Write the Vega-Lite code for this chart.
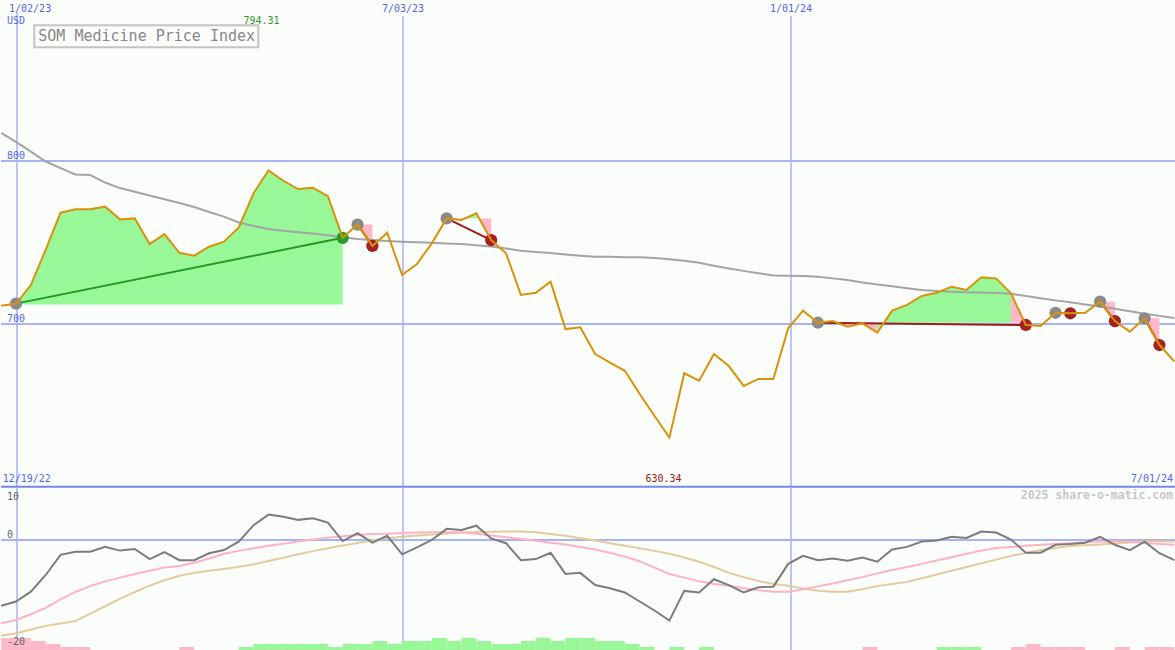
{
"$schema":"https://vega.github.io/schema/vega-lite/v6.json",
"background":"#fbfdfa",
"padding":0,
"spacing":0,
"bounds":"flush",
"config":{"view":{"stroke":null},"text":{"font":"DejaVu Sans Mono"},"scale":{"continuousPadding":0}},
"datasets":{
"weeks":[
{"i":-1,"p":711.2,"ma":817.3,"o":-12.4,"pk":-15.7,"tn":-18.05},
{"i":0,"p":712.5,"ma":811.8,"o":-11.6,"pk":-15.1,"tn":-17.6},
{"i":1,"p":723.9,"ma":805.8,"o":-9.75,"pk":-14.0,"tn":-16.9},
{"i":2,"p":745.6,"ma":799.7,"o":-6.6,"pk":-12.8,"tn":-16.2},
{"i":3,"p":768.3,"ma":795.6,"o":-2.8,"pk":-11.2,"tn":-15.75},
{"i":4,"p":770.4,"ma":791.8,"o":-2.2,"pk":-9.8,"tn":-15.3},
{"i":5,"p":770.4,"ma":791.4,"o":-2.2,"pk":-8.7,"tn":-13.9},
{"i":6,"p":772.0,"ma":786.8,"o":-1.26,"pk":-7.8,"tn":-12.5},
{"i":7,"p":764.2,"ma":783.4,"o":-2.0,"pk":-7.1,"tn":-11.1},
{"i":8,"p":764.8,"ma":781.1,"o":-1.7,"pk":-6.4,"tn":-9.8},
{"i":9,"p":749.1,"ma":778.8,"o":-3.6,"pk":-5.8,"tn":-8.6},
{"i":10,"p":755.2,"ma":776.6,"o":-2.3,"pk":-5.2,"tn":-7.6},
{"i":11,"p":743.7,"ma":774.2,"o":-3.8,"pk":-4.9,"tn":-6.75},
{"i":12,"p":741.9,"ma":771.8,"o":-3.8,"pk":-4.3,"tn":-6.2},
{"i":13,"p":747.4,"ma":768.7,"o":-2.5,"pk":-3.5,"tn":-5.8},
{"i":14,"p":750.5,"ma":765.9,"o":-1.9,"pk":-2.6,"tn":-5.45},
{"i":15,"p":759.3,"ma":762.3,"o":-0.3,"pk":-2.05,"tn":-5.05},
{"i":16,"p":780.2,"ma":760.1,"o":2.8,"pk":-1.55,"tn":-4.6},
{"i":17,"p":794.3,"ma":758.3,"o":4.8,"pk":-1.1,"tn":-3.95},
{"i":18,"p":787.9,"ma":757.2,"o":4.4,"pk":-0.7,"tn":-3.35},
{"i":19,"p":782.8,"ma":756.3,"o":3.8,"pk":-0.3,"tn":-2.7},
{"i":20,"p":783.6,"ma":755.5,"o":4.1,"pk":0.1,"tn":-2.1},
{"i":21,"p":778.5,"ma":754.5,"o":3.3,"pk":0.45,"tn":-1.55},
{"i":22,"p":752.9,"ma":753.3,"o":-0.2,"pk":0.7,"tn":-1.05},
{"i":23,"p":761.0,"ma":752.2,"o":1.3,"pk":0.95,"tn":-0.55},
{"i":24,"p":747.9,"ma":751.5,"o":-0.5,"pk":1.15,"tn":-0.05},
{"i":25,"p":756.0,"ma":751.0,"o":0.8,"pk":1.2,"tn":0.35},
{"i":26,"p":730.1,"ma":750.5,"o":-2.7,"pk":1.3,"tn":0.6},
{"i":27,"p":736.8,"ma":750.2,"o":-1.4,"pk":1.4,"tn":0.85},
{"i":28,"p":749.5,"ma":749.8,"o":0.0,"pk":1.45,"tn":1.05},
{"i":29,"p":764.8,"ma":749.4,"o":2.1,"pk":1.45,"tn":1.25},
{"i":30,"p":763.8,"ma":749.1,"o":1.9,"pk":1.45,"tn":1.4},
{"i":31,"p":767.9,"ma":748.3,"o":2.7,"pk":1.2,"tn":1.5},
{"i":32,"p":751.5,"ma":747.5,"o":0.3,"pk":0.85,"tn":1.55},
{"i":33,"p":743.4,"ma":746.3,"o":-0.6,"pk":0.5,"tn":1.6},
{"i":34,"p":717.8,"ma":745.0,"o":-3.8,"pk":0.2,"tn":1.6},
{"i":35,"p":719.2,"ma":744.2,"o":-3.6,"pk":-0.15,"tn":1.45},
{"i":36,"p":726.0,"ma":743.5,"o":-2.4,"pk":-0.5,"tn":1.15},
{"i":37,"p":696.9,"ma":742.7,"o":-6.4,"pk":-0.85,"tn":0.8},
{"i":38,"p":698.0,"ma":741.9,"o":-6.2,"pk":-1.3,"tn":0.35},
{"i":39,"p":681.6,"ma":741.3,"o":-8.5,"pk":-1.8,"tn":-0.1},
{"i":40,"p":676.3,"ma":741.2,"o":-9.1,"pk":-2.4,"tn":-0.6},
{"i":41,"p":671.3,"ma":741.0,"o":-9.9,"pk":-3.15,"tn":-1.1},
{"i":42,"p":657.1,"ma":740.9,"o":-11.6,"pk":-4.0,"tn":-1.55},
{"i":43,"p":643.6,"ma":740.5,"o":-13.3,"pk":-5.2,"tn":-2.05},
{"i":44,"p":630.3,"ma":739.7,"o":-15.2,"pk":-6.4,"tn":-2.6},
{"i":45,"p":669.8,"ma":738.8,"o":-9.6,"pk":-7.1,"tn":-3.3},
{"i":46,"p":665.2,"ma":737.6,"o":-9.9,"pk":-7.8,"tn":-4.1},
{"i":47,"p":681.6,"ma":735.8,"o":-7.4,"pk":-8.3,"tn":-5.1},
{"i":48,"p":674.2,"ma":734.1,"o":-8.5,"pk":-8.65,"tn":-6.2},
{"i":49,"p":662.0,"ma":732.6,"o":-9.9,"pk":-9.1,"tn":-7.0},
{"i":50,"p":666.3,"ma":731.2,"o":-8.9,"pk":-9.5,"tn":-7.75},
{"i":51,"p":666.3,"ma":729.7,"o":-8.8,"pk":-9.75,"tn":-8.3},
{"i":52,"p":697.4,"ma":729.6,"o":-4.5,"pk":-9.75,"tn":-8.65},
{"i":53,"p":708.2,"ma":729.5,"o":-3.0,"pk":-9.3,"tn":-9.15},
{"i":54,"p":700.8,"ma":729.0,"o":-3.8,"pk":-8.75,"tn":-9.55},
{"i":55,"p":701.8,"ma":728.0,"o":-3.5,"pk":-8.2,"tn":-9.75},
{"i":56,"p":698.3,"ma":727.0,"o":-3.9,"pk":-7.6,"tn":-9.75},
{"i":57,"p":700.4,"ma":725.5,"o":-3.3,"pk":-7.0,"tn":-9.3},
{"i":58,"p":694.7,"ma":724.3,"o":-4.1,"pk":-6.3,"tn":-8.7},
{"i":59,"p":708.2,"ma":723.1,"o":-1.8,"pk":-5.65,"tn":-8.3},
{"i":60,"p":711.7,"ma":722.0,"o":-1.3,"pk":-5.1,"tn":-7.9},
{"i":61,"p":717.2,"ma":720.9,"o":-0.3,"pk":-4.5,"tn":-7.2},
{"i":62,"p":719.2,"ma":720.2,"o":-0.1,"pk":-3.85,"tn":-6.5},
{"i":63,"p":722.9,"ma":719.8,"o":0.6,"pk":-3.25,"tn":-5.8},
{"i":64,"p":720.9,"ma":719.5,"o":0.4,"pk":-2.6,"tn":-5.1},
{"i":65,"p":728.7,"ma":719.3,"o":1.6,"pk":-2.0,"tn":-4.4},
{"i":66,"p":728.0,"ma":719.0,"o":1.4,"pk":-1.5,"tn":-3.7},
{"i":67,"p":718.8,"ma":718.5,"o":0.1,"pk":-1.3,"tn":-3.0},
{"i":68,"p":699.4,"ma":717.2,"o":-2.4,"pk":-1.1,"tn":-2.45},
{"i":69,"p":698.8,"ma":715.8,"o":-2.4,"pk":-0.9,"tn":-1.9},
{"i":70,"p":706.9,"ma":714.5,"o":-0.9,"pk":-0.75,"tn":-1.5},
{"i":71,"p":706.6,"ma":713.3,"o":-0.75,"pk":-0.6,"tn":-1.15},
{"i":72,"p":706.9,"ma":712.0,"o":-0.5,"pk":-0.4,"tn":-1.0},
{"i":73,"p":713.7,"ma":710.7,"o":0.6,"pk":-0.3,"tn":-0.85},
{"i":74,"p":701.8,"ma":709.3,"o":-0.9,"pk":-0.3,"tn":-0.65},
{"i":75,"p":695.3,"ma":707.9,"o":-1.9,"pk":-0.35,"tn":-0.45},
{"i":76,"p":703.5,"ma":706.3,"o":-0.3,"pk":-0.55,"tn":-0.3},
{"i":77,"p":687.1,"ma":705.0,"o":-2.5,"pk":-0.75,"tn":-0.3},
{"i":78,"p":677.1,"ma":703.7,"o":-3.8,"pk":-0.9,"tn":-0.3}
],
"fills":[
{"g":"G1","k":"up","i":0,"p":712.5,"b":712},{"g":"G1","k":"up","i":1,"p":723.9,"b":712},{"g":"G1","k":"up","i":2,"p":745.6,"b":712},{"g":"G1","k":"up","i":3,"p":768.3,"b":712},{"g":"G1","k":"up","i":4,"p":770.4,"b":712},{"g":"G1","k":"up","i":5,"p":770.4,"b":712},{"g":"G1","k":"up","i":6,"p":772.0,"b":712},{"g":"G1","k":"up","i":7,"p":764.2,"b":712},{"g":"G1","k":"up","i":8,"p":764.8,"b":712},{"g":"G1","k":"up","i":9,"p":749.1,"b":712},{"g":"G1","k":"up","i":10,"p":755.2,"b":712},{"g":"G1","k":"up","i":11,"p":743.7,"b":712},{"g":"G1","k":"up","i":12,"p":741.9,"b":712},{"g":"G1","k":"up","i":13,"p":747.4,"b":712},{"g":"G1","k":"up","i":14,"p":750.5,"b":712},{"g":"G1","k":"up","i":15,"p":759.3,"b":712},{"g":"G1","k":"up","i":16,"p":780.2,"b":712},{"g":"G1","k":"up","i":17,"p":794.3,"b":712},{"g":"G1","k":"up","i":18,"p":787.9,"b":712},{"g":"G1","k":"up","i":19,"p":782.8,"b":712},{"g":"G1","k":"up","i":20,"p":783.6,"b":712},{"g":"G1","k":"up","i":21,"p":778.5,"b":712},{"g":"G1","k":"up","i":22,"p":752.9,"b":712},
{"g":"P1","k":"dn","i":23,"p":761.0,"b":761.0},{"g":"P1","k":"dn","i":24,"p":747.9,"b":761.0},
{"g":"P2","k":"dn","i":29,"p":764.8,"b":764.8},{"g":"P2","k":"dn","i":30,"p":763.8,"b":764.8},
{"g":"G2","k":"up","i":30,"p":763.8,"b":764.8},{"g":"G2","k":"up","i":31,"p":767.9,"b":764.8},
{"g":"P3","k":"dn","i":31,"p":767.9,"b":764.8},{"g":"P3","k":"dn","i":32,"p":751.5,"b":764.8},
{"g":"G3","k":"up","i":54,"p":700.8,"b":700.8},{"g":"G3","k":"up","i":55,"p":701.8,"b":700.8},
{"g":"P4","k":"dn","i":55,"p":701.8,"b":700.8},{"g":"P4","k":"dn","i":56,"p":698.3,"b":700.8},{"g":"P4","k":"dn","i":57,"p":700.4,"b":700.8},{"g":"P4","k":"dn","i":58,"p":694.7,"b":700.8},
{"g":"G4","k":"up","i":58,"p":694.7,"b":700.8},{"g":"G4","k":"up","i":59,"p":708.2,"b":700.8},{"g":"G4","k":"up","i":60,"p":711.7,"b":700.8},{"g":"G4","k":"up","i":61,"p":717.2,"b":700.8},{"g":"G4","k":"up","i":62,"p":719.2,"b":700.8},{"g":"G4","k":"up","i":63,"p":722.9,"b":700.8},{"g":"G4","k":"up","i":64,"p":720.9,"b":700.8},{"g":"G4","k":"up","i":65,"p":728.7,"b":700.8},{"g":"G4","k":"up","i":66,"p":728.0,"b":700.8},{"g":"G4","k":"up","i":67,"p":718.8,"b":700.8},
{"g":"P5","k":"dn","i":67,"p":718.8,"b":700.8},{"g":"P5","k":"dn","i":68,"p":699.4,"b":700.8},
{"g":"P6","k":"dn","i":70,"p":706.9,"b":706.9},{"g":"P6","k":"dn","i":71,"p":706.6,"b":706.9},
{"g":"P7","k":"dn","i":73,"p":713.7,"b":713.7},{"g":"P7","k":"dn","i":74,"p":701.8,"b":713.7},
{"g":"P8","k":"dn","i":76,"p":703.5,"b":703.5},{"g":"P8","k":"dn","i":77,"p":687.1,"b":703.5}
],
"trades":[
{"t":"T1","k":"win","i":0,"p":712.5},{"t":"T1","k":"win","i":22,"p":752.9},
{"t":"T2","k":"lose","i":23,"p":761.0},{"t":"T2","k":"lose","i":24,"p":747.9},
{"t":"T3","k":"lose","i":29,"p":764.8},{"t":"T3","k":"lose","i":32,"p":751.5},
{"t":"T4","k":"lose","i":54,"p":700.8},{"t":"T4","k":"lose","i":68,"p":699.4},
{"t":"T5","k":"lose","i":70,"p":706.9},{"t":"T5","k":"lose","i":71,"p":706.6},
{"t":"T6","k":"lose","i":73,"p":713.7},{"t":"T6","k":"lose","i":74,"p":701.8},
{"t":"T7","k":"lose","i":76,"p":703.5},{"t":"T7","k":"lose","i":77,"p":687.1}
],
"dots":[
{"k":"buy","i":0,"p":712.5},{"k":"win","i":22,"p":752.9},
{"k":"buy","i":23,"p":761.0},{"k":"lose","i":24,"p":747.9},
{"k":"buy","i":29,"p":764.8},{"k":"lose","i":32,"p":751.5},
{"k":"buy","i":54,"p":700.8},{"k":"lose","i":68,"p":699.4},
{"k":"buy","i":70,"p":706.9},{"k":"lose","i":71,"p":706.6},
{"k":"buy","i":73,"p":713.7},{"k":"lose","i":74,"p":701.8},
{"k":"buy","i":76,"p":703.5},{"k":"lose","i":77,"p":687.1}
],
"hist":[
{"i":-1,"m":4,"s":"neg"},{"i":0,"m":4,"s":"neg"},{"i":1,"m":3,"s":"neg"},{"i":2,"m":2,"s":"neg"},{"i":3,"m":1,"s":"neg"},{"i":4,"m":1,"s":"neg"},{"i":11,"m":1,"s":"neg"},
{"i":15,"m":1,"s":"pos"},{"i":16,"m":2,"s":"pos"},{"i":17,"m":2,"s":"pos"},{"i":18,"m":2,"s":"pos"},{"i":19,"m":2,"s":"pos"},{"i":20,"m":2,"s":"pos"},{"i":21,"m":1,"s":"pos"},{"i":22,"m":2,"s":"pos"},{"i":23,"m":2,"s":"pos"},{"i":24,"m":3,"s":"pos"},{"i":25,"m":2,"s":"pos"},{"i":26,"m":3,"s":"pos"},{"i":27,"m":3,"s":"pos"},{"i":28,"m":4,"s":"pos"},{"i":29,"m":3,"s":"pos"},{"i":30,"m":4,"s":"pos"},{"i":31,"m":3,"s":"pos"},{"i":32,"m":2,"s":"pos"},{"i":33,"m":2,"s":"pos"},{"i":34,"m":3,"s":"pos"},{"i":35,"m":4,"s":"pos"},{"i":36,"m":3,"s":"pos"},{"i":37,"m":4,"s":"pos"},{"i":38,"m":4,"s":"pos"},{"i":39,"m":3,"s":"pos"},{"i":40,"m":3,"s":"pos"},{"i":41,"m":2,"s":"pos"},{"i":42,"m":1,"s":"pos"},{"i":44,"m":1,"s":"pos"},{"i":46,"m":1,"s":"pos"},
{"i":57,"m":1,"s":"neg"},{"i":62,"m":1,"s":"pos"},{"i":63,"m":1,"s":"pos"},{"i":64,"m":1,"s":"pos"},{"i":67,"m":1,"s":"neg"},{"i":68,"m":2,"s":"neg"},{"i":69,"m":1,"s":"neg"},{"i":70,"m":1,"s":"neg"},{"i":71,"m":1,"s":"neg"},{"i":74,"m":1,"s":"neg"},{"i":76,"m":1,"s":"neg"},{"i":77,"m":1,"s":"neg"}
],
"vlines":[{"i":0.067,"top":890.8},{"i":26.06,"top":889},{"i":52.19,"top":889}],
"labels":[
{"r":"L","t":"1/02/23","i":-0.47,"v":893.4},
{"r":"L","t":"USD","i":-0.606,"v":885.8},
{"r":"L","t":"12/19/22","i":-0.9,"v":604.9},
{"r":"C","t":"7/03/23","i":26.06,"v":893.4},
{"r":"C","t":"1/01/24","i":52.19,"v":893.4},
{"r":"R","t":"7/01/24","i":77.92,"v":604.9},
{"r":"MX","t":"794.31","i":16.53,"v":885.8},
{"r":"MN","t":"630.34","i":43.6,"v":604.9}
]
},
"vconcat":[
{
"width":1175,"height":487,
"resolve":{"scale":{"color":"independent"}},
"layer":[
{"data":{"values":[{"v":800},{"v":700}]},"mark":{"type":"rule","color":"#a6b3f4","strokeWidth":2},
 "encoding":{"y":{"field":"v","type":"quantitative","scale":{"domain":[600,898.8],"nice":false,"zero":false},"axis":null}}},
{"data":{"name":"vlines"},"mark":{"type":"rule","color":"#a6b3f4","strokeWidth":1.5},
 "encoding":{"x":{"field":"i","type":"quantitative","scale":{"domain":[-1.0101,78.114],"nice":false,"zero":false,"padding":0},"axis":null},
  "y":{"field":"top","type":"quantitative","scale":{"domain":[600,898.8],"nice":false,"zero":false},"axis":null},
  "y2":{"datum":600}}},
{"data":{"name":"fills"},"mark":{"type":"area","opacity":1},
 "encoding":{"x":{"field":"i","type":"quantitative","scale":{"domain":[-1.0101,78.114],"nice":false,"zero":false,"padding":0},"axis":null},
  "y":{"field":"p","type":"quantitative","scale":{"domain":[600,898.8],"nice":false,"zero":false},"axis":null},
  "y2":{"field":"b"},
  "detail":{"field":"g"},
  "color":{"field":"k","type":"nominal","scale":{"domain":["up","dn"],"range":["#98f898","#ffb8c8"]},"legend":null}}},
{"data":{"name":"weeks"},"mark":{"type":"line","color":"#a4a4a4","strokeWidth":2,"clip":true},
 "encoding":{"x":{"field":"i","type":"quantitative","scale":{"domain":[-1.0101,78.114],"nice":false,"zero":false,"padding":0},"axis":null},
  "y":{"field":"ma","type":"quantitative","scale":{"domain":[600,898.8],"nice":false,"zero":false},"axis":null}}},
{"data":{"name":"trades"},"mark":{"type":"line","strokeWidth":2},
 "encoding":{"x":{"field":"i","type":"quantitative","scale":{"domain":[-1.0101,78.114],"nice":false,"zero":false,"padding":0},"axis":null},
  "y":{"field":"p","type":"quantitative","scale":{"domain":[600,898.8],"nice":false,"zero":false},"axis":null},
  "detail":{"field":"t"},
  "color":{"field":"k","type":"nominal","scale":{"domain":["win","lose"],"range":["#229922","#a01c1c"]},"legend":null}}},
{"data":{"name":"dots"},"mark":{"type":"point","filled":true,"opacity":1,"size":150},
 "encoding":{"x":{"field":"i","type":"quantitative","scale":{"domain":[-1.0101,78.114],"nice":false,"zero":false,"padding":0},"axis":null},
  "y":{"field":"p","type":"quantitative","scale":{"domain":[600,898.8],"nice":false,"zero":false},"axis":null},
  "color":{"field":"k","type":"nominal","scale":{"domain":["buy","win","lose"],"range":["#8a8a8a","#2a9a2a","#a52020"]},"legend":null}}},
{"data":{"name":"weeks"},"mark":{"type":"line","color":"#d8920c","strokeWidth":2,"clip":true},
 "encoding":{"x":{"field":"i","type":"quantitative","scale":{"domain":[-1.0101,78.114],"nice":false,"zero":false,"padding":0},"axis":null},
  "y":{"field":"p","type":"quantitative","scale":{"domain":[600,898.8],"nice":false,"zero":false},"axis":null}}},
{"data":{"values":[{"v":600.2}]},"mark":{"type":"rule","color":"#7586ee","strokeWidth":2},
 "encoding":{"y":{"field":"v","type":"quantitative","scale":{"domain":[600,898.8],"nice":false,"zero":false},"axis":null}}},
{"data":{"values":[{"a":1.232,"b":16.316,"c":883.3,"d":869.8}]},"mark":{"type":"rect","fill":"#fbfdfa","stroke":"#c4c4c4","strokeWidth":2},
 "encoding":{"x":{"field":"a","type":"quantitative","scale":{"domain":[-1.0101,78.114],"nice":false,"zero":false,"padding":0},"axis":null},
  "x2":{"field":"b"},
  "y":{"field":"c","type":"quantitative","scale":{"domain":[600,898.8],"nice":false,"zero":false},"axis":null},
  "y2":{"field":"d"}}},
{"data":{"values":[{"t":"SOM Medicine Price Index","i":1.502,"v":876.6}]},"mark":{"type":"text","align":"left","baseline":"middle","fontSize":15,"color":"#888888"},
 "encoding":{"x":{"field":"i","type":"quantitative","scale":{"domain":[-1.0101,78.114],"nice":false,"zero":false,"padding":0},"axis":null},
  "y":{"field":"v","type":"quantitative","scale":{"domain":[600,898.8],"nice":false,"zero":false},"axis":null},
  "text":{"field":"t"}}},
{"data":{"values":[{"t":"800","i":-0.606,"v":800},{"t":"700","i":-0.606,"v":700}]},"mark":{"type":"text","align":"left","baseline":"middle","dy":-5,"fontSize":10,"color":"#5566ee"},
 "encoding":{"x":{"field":"i","type":"quantitative","scale":{"domain":[-1.0101,78.114],"nice":false,"zero":false,"padding":0},"axis":null},
  "y":{"field":"v","type":"quantitative","scale":{"domain":[600,898.8],"nice":false,"zero":false},"axis":null},
  "text":{"field":"t"}}},
{"data":{"name":"labels"},"transform":[{"filter":"datum.r==='L'"}],"mark":{"type":"text","align":"left","baseline":"middle","fontSize":10,"color":"#5566ee"},
 "encoding":{"x":{"field":"i","type":"quantitative","scale":{"domain":[-1.0101,78.114],"nice":false,"zero":false,"padding":0},"axis":null},
  "y":{"field":"v","type":"quantitative","scale":{"domain":[600,898.8],"nice":false,"zero":false},"axis":null},
  "text":{"field":"t"}}},
{"data":{"name":"labels"},"transform":[{"filter":"datum.r==='C'"}],"mark":{"type":"text","align":"center","baseline":"middle","fontSize":10,"color":"#5566ee"},
 "encoding":{"x":{"field":"i","type":"quantitative","scale":{"domain":[-1.0101,78.114],"nice":false,"zero":false,"padding":0},"axis":null},
  "y":{"field":"v","type":"quantitative","scale":{"domain":[600,898.8],"nice":false,"zero":false},"axis":null},
  "text":{"field":"t"}}},
{"data":{"name":"labels"},"transform":[{"filter":"datum.r==='R'"}],"mark":{"type":"text","align":"right","baseline":"middle","fontSize":10,"color":"#5566ee"},
 "encoding":{"x":{"field":"i","type":"quantitative","scale":{"domain":[-1.0101,78.114],"nice":false,"zero":false,"padding":0},"axis":null},
  "y":{"field":"v","type":"quantitative","scale":{"domain":[600,898.8],"nice":false,"zero":false},"axis":null},
  "text":{"field":"t"}}},
{"data":{"name":"labels"},"transform":[{"filter":"datum.r==='MX'"}],"mark":{"type":"text","align":"center","baseline":"middle","fontSize":10,"color":"#2a9a2a"},
 "encoding":{"x":{"field":"i","type":"quantitative","scale":{"domain":[-1.0101,78.114],"nice":false,"zero":false,"padding":0},"axis":null},
  "y":{"field":"v","type":"quantitative","scale":{"domain":[600,898.8],"nice":false,"zero":false},"axis":null},
  "text":{"field":"t"}}},
{"data":{"name":"labels"},"transform":[{"filter":"datum.r==='MN'"}],"mark":{"type":"text","align":"center","baseline":"middle","fontSize":10,"color":"#a01818"},
 "encoding":{"x":{"field":"i","type":"quantitative","scale":{"domain":[-1.0101,78.114],"nice":false,"zero":false,"padding":0},"axis":null},
  "y":{"field":"v","type":"quantitative","scale":{"domain":[600,898.8],"nice":false,"zero":false},"axis":null},
  "text":{"field":"t"}}}
]
},
{
"width":1175,"height":163,
"resolve":{"scale":{"y":"independent","color":"independent"}},
"layer":[
{"data":{"values":[{"v":0}]},"mark":{"type":"rule","color":"#a6b3f4","strokeWidth":2},
 "encoding":{"y":{"field":"v","type":"quantitative","scale":{"domain":[-20.75,10],"nice":false,"zero":false},"axis":null}}},
{"data":{"name":"vlines"},"mark":{"type":"rule","color":"#a6b3f4","strokeWidth":1.5},
 "encoding":{"x":{"field":"i","type":"quantitative","scale":{"domain":[-1.0101,78.114],"nice":false,"zero":false,"padding":0},"axis":null}}},
{"data":{"name":"hist"},"mark":{"type":"bar","width":14.85,"xOffset":7.42},
 "encoding":{"x":{"field":"i","type":"quantitative","scale":{"domain":[-1.0101,78.114],"nice":false,"zero":false,"padding":0},"axis":null},
  "y":{"field":"m","type":"quantitative","scale":{"domain":[0,54.33],"nice":false},"axis":null},
  "color":{"field":"s","type":"nominal","scale":{"domain":["pos","neg"],"range":["#98f898","#ffb8c8"]},"legend":null}}},
{"data":{"name":"weeks"},"mark":{"type":"line","color":"#e2cb9c","strokeWidth":2,"clip":true},
 "encoding":{"x":{"field":"i","type":"quantitative","scale":{"domain":[-1.0101,78.114],"nice":false,"zero":false,"padding":0},"axis":null},
  "y":{"field":"tn","type":"quantitative","scale":{"domain":[-20.75,10],"nice":false,"zero":false},"axis":null}}},
{"data":{"name":"weeks"},"mark":{"type":"line","color":"#ffb2c6","strokeWidth":2,"clip":true},
 "encoding":{"x":{"field":"i","type":"quantitative","scale":{"domain":[-1.0101,78.114],"nice":false,"zero":false,"padding":0},"axis":null},
  "y":{"field":"pk","type":"quantitative","scale":{"domain":[-20.75,10],"nice":false,"zero":false},"axis":null}}},
{"data":{"name":"weeks"},"mark":{"type":"line","color":"#7c7c7c","strokeWidth":2,"clip":true},
 "encoding":{"x":{"field":"i","type":"quantitative","scale":{"domain":[-1.0101,78.114],"nice":false,"zero":false,"padding":0},"axis":null},
  "y":{"field":"o","type":"quantitative","scale":{"domain":[-20.75,10],"nice":false,"zero":false},"axis":null}}},
{"data":{"values":[{"t":"10","i":-0.606,"v":10}]},"mark":{"type":"text","align":"left","baseline":"middle","dy":9.5,"fontSize":10,"color":"#666666"},
 "encoding":{"x":{"field":"i","type":"quantitative","scale":{"domain":[-1.0101,78.114],"nice":false,"zero":false,"padding":0},"axis":null},
  "y":{"field":"v","type":"quantitative","scale":{"domain":[-20.75,10],"nice":false,"zero":false},"axis":null},
  "text":{"field":"t"}}},
{"data":{"values":[{"t":"0","i":-0.606,"v":0}]},"mark":{"type":"text","align":"left","baseline":"middle","dy":-5,"fontSize":10,"color":"#666666"},
 "encoding":{"x":{"field":"i","type":"quantitative","scale":{"domain":[-1.0101,78.114],"nice":false,"zero":false,"padding":0},"axis":null},
  "y":{"field":"v","type":"quantitative","scale":{"domain":[-20.75,10],"nice":false,"zero":false},"axis":null},
  "text":{"field":"t"}}},
{"data":{"values":[{"t":"-20","i":-0.606,"v":-20}]},"mark":{"type":"text","align":"left","baseline":"middle","dy":-4,"fontSize":10,"color":"#666666"},
 "encoding":{"x":{"field":"i","type":"quantitative","scale":{"domain":[-1.0101,78.114],"nice":false,"zero":false,"padding":0},"axis":null},
  "y":{"field":"v","type":"quantitative","scale":{"domain":[-20.75,10],"nice":false,"zero":false},"axis":null},
  "text":{"field":"t"}}},
{"data":{"values":[{"t":"2025 share-o-matic.com","i":77.92,"v":10}]},"mark":{"type":"text","align":"right","baseline":"middle","dy":9,"fontSize":11.5,"fontWeight":"bold","color":"#c8c8c8"},
 "encoding":{"x":{"field":"i","type":"quantitative","scale":{"domain":[-1.0101,78.114],"nice":false,"zero":false,"padding":0},"axis":null},
  "y":{"field":"v","type":"quantitative","scale":{"domain":[-20.75,10],"nice":false,"zero":false},"axis":null},
  "text":{"field":"t"}}}
]
}
]
}
